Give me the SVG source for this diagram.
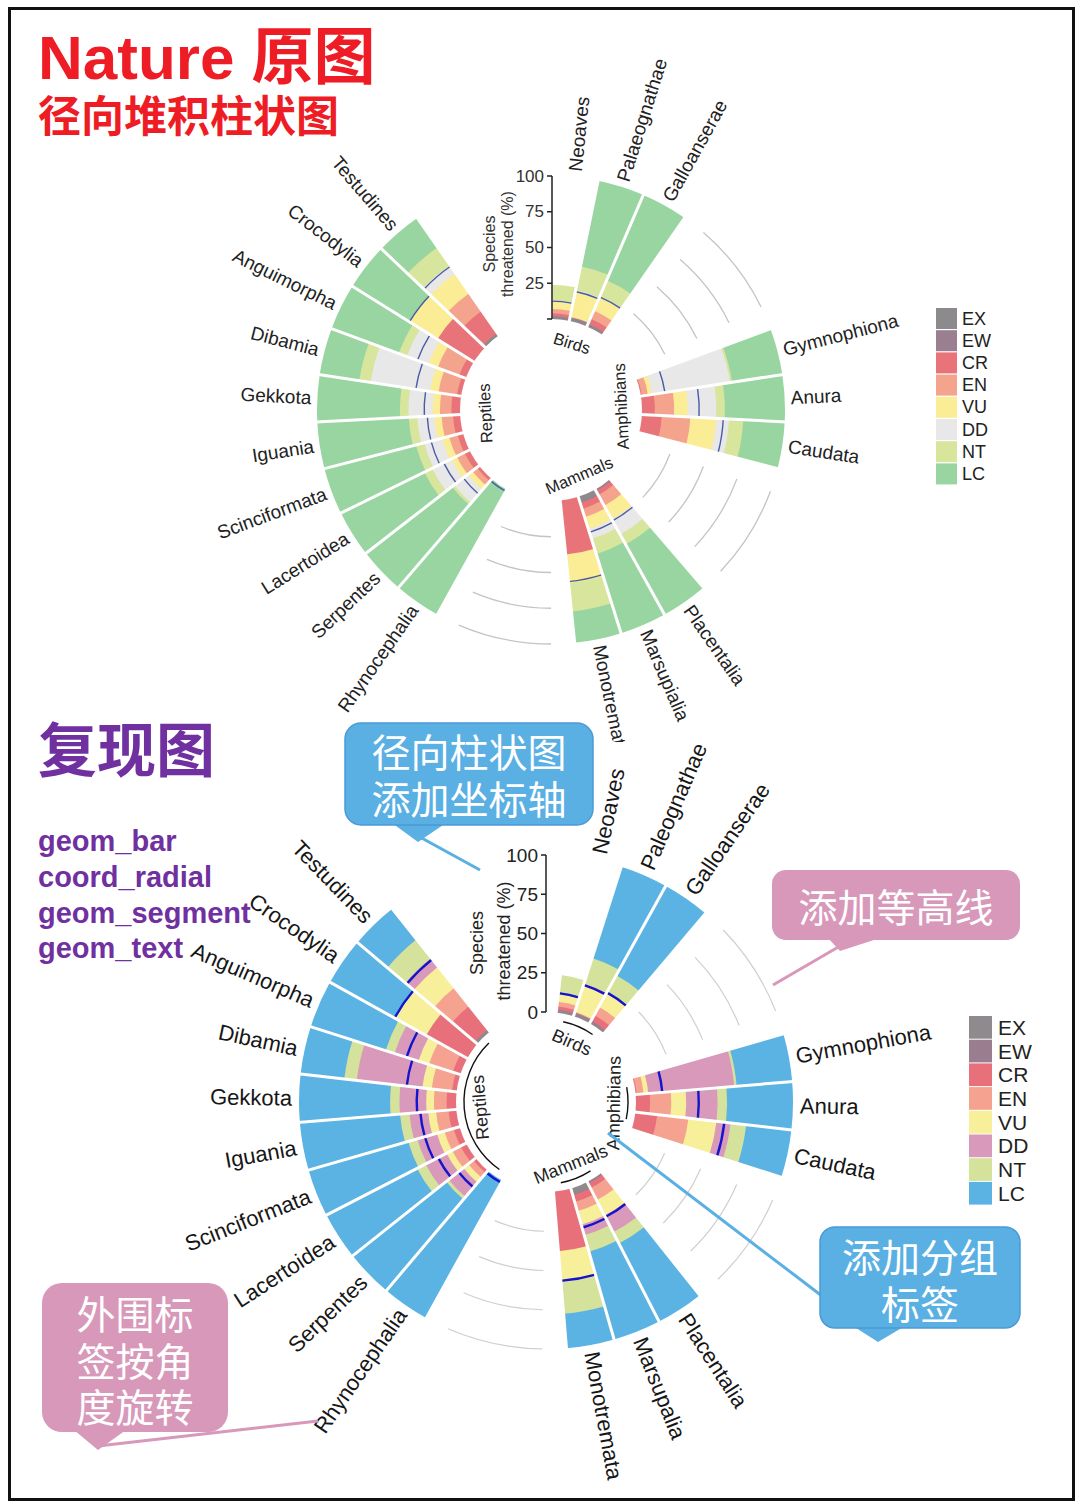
<svg xmlns="http://www.w3.org/2000/svg" width="1080" height="1505" viewBox="0 0 1080 1505">
<defs>
<style>
text{font-family:"Liberation Sans","Noto Sans CJK SC",sans-serif}
#top .ex{fill:#8d8a8d}#top .ew{fill:#9a7f91}#top .cr{fill:#e8747a}#top .en{fill:#f4a48d}#top .vu{fill:#fbec96}#top .dd{fill:#e8e8e8}#top .nt{fill:#d7e59d}#top .lc{fill:#98d5a1}
#bot .ex{fill:#8e8a8e}#bot .ew{fill:#9a7e8f}#bot .cr{fill:#e8707b}#bot .en{fill:#f6a290}#bot .vu{fill:#f8ef9a}#bot .dd{fill:#d899bb}#bot .nt{fill:#d5e29b}#bot .lc{fill:#5bb3e3}
#top .ln{stroke:#4a5ba6;stroke-width:1.4}
#bot .ln{stroke:#1414cc;stroke-width:2.4}
.sep{stroke:#fff;stroke-width:3}
#top .ct{stroke:#c4c4c4;stroke-width:1.3}
#bot .ct{stroke:#cfcfcf;stroke-width:1.2}
.lb{fill:#222;dominant-baseline:central}
#top .lb{font-size:19px}
#bot .lb{font-size:22px;fill:#161616}
.e{text-anchor:end}
.gl{text-anchor:middle;fill:#222;dominant-baseline:central}
#top .gl{font-size:16.5px}
#bot .gl{font-size:18px}
.ax{stroke:#222;stroke-width:1.5;fill:none}
.tk{text-anchor:end;dominant-baseline:central;fill:#333}
#top .tk{font-size:17px}
#bot .tk{font-size:19px;fill:#222}
.at{text-anchor:middle;fill:#333}
#top .at{font-size:16px}
#bot .at{font-size:18px;fill:#222}
.lg{fill:#222;dominant-baseline:central}
#top .lg{font-size:18px}
#bot .lg{font-size:21px}
.co{font-family:"Noto Sans CJK SC",sans-serif;font-size:39px;fill:#fff;text-anchor:middle}
.code{font-size:29px;font-weight:bold;fill:#7030a0}
.garc{stroke:#111;stroke-width:1.4;fill:none}
</style>
<path id="wt" d="M0,0 L0,-1 A1,1 0 0 1 0.2013,-0.97953 Z"/>
<path id="at" d="M0,-1 A1,1 0 0 1 0.2013,-0.97953" fill="none" vector-effect="non-scaling-stroke"/>
<path id="ct" d="M0,-1 A1,1 0 0 1 0.39436,-0.91896" fill="none" vector-effect="non-scaling-stroke"/>
<path id="wb" d="M0,0 L0,-1 A1,1 0 0 1 0.19509,-0.98079 Z"/>
<path id="ab" d="M0,-1 A1,1 0 0 1 0.19509,-0.98079" fill="none" vector-effect="non-scaling-stroke"/>
<path id="cb" d="M0,-1 A1,1 0 0 1 0.38268,-0.92388" fill="none" vector-effect="non-scaling-stroke"/>
<clipPath id="clipTop"><rect x="0" y="0" width="1080" height="742"/></clipPath>
</defs>
<rect width="1080" height="1505" fill="#fff"/>

<g id="titles">
<text x="38" y="79" font-size="62" font-weight="bold" fill="#ee1c24">Nature 原图</text>
<text x="38" y="132" font-size="43" font-weight="bold" fill="#ee1c24" font-family="Noto Sans CJK SC, sans-serif">径向堆积柱状图</text>
<text x="38" y="772" font-size="59" font-weight="bold" fill="#7030a0" font-family="Noto Sans CJK SC, sans-serif">复现图</text>
<text class="code" x="38" y="851">geom_bar</text>
<text class="code" x="38" y="887">coord_radial</text>
<text class="code" x="38" y="923">geom_segment</text>
<text class="code" x="38" y="958">geom_text</text>
</g>

<g id="top" clip-path="url(#clipTop)">
<g transform="translate(551,410)">
<g id="t-neoaves" transform="rotate(0)"><use href="#wt" transform="scale(125.3)" class="nt"/><use href="#wt" transform="scale(109.6)" class="dd"/><use href="#wt" transform="scale(108.2)" class="vu"/><use href="#wt" transform="scale(101)" class="en"/><use href="#wt" transform="scale(96.7)" class="cr"/><use href="#wt" transform="scale(93.9)" class="ew"/><use href="#wt" transform="scale(93.1)" class="ex"/><use href="#at" transform="scale(108.9)" class="ln"/></g>
<g id="t-palaeognathae" transform="rotate(11.613)"><use href="#wt" transform="scale(234)" class="lc"/><use href="#wt" transform="scale(146.8)" class="nt"/><use href="#wt" transform="scale(122.5)" class="dd"/><use href="#wt" transform="scale(121)" class="vu"/><use href="#wt" transform="scale(95.3)" class="en"/><use href="#wt" transform="scale(94.6)" class="ew"/><use href="#wt" transform="scale(93.1)" class="ex"/><use href="#at" transform="scale(121)" class="ln"/></g>
<g id="t-galloanserae" transform="rotate(23.226)"><use href="#wt" transform="scale(234)" class="lc"/><use href="#wt" transform="scale(141.1)" class="nt"/><use href="#wt" transform="scale(123.9)" class="dd"/><use href="#wt" transform="scale(122.5)" class="vu"/><use href="#wt" transform="scale(108.2)" class="en"/><use href="#wt" transform="scale(99.6)" class="cr"/><use href="#wt" transform="scale(93.9)" class="ew"/><use href="#wt" transform="scale(92.4)" class="ex"/><use href="#at" transform="scale(123.2)" class="ln"/></g>
<g id="t-gymnophiona" transform="rotate(69.677)"><use href="#wt" transform="scale(234)" class="lc"/><use href="#wt" transform="scale(183.2)" class="nt"/><use href="#wt" transform="scale(181.1)" class="dd"/><use href="#wt" transform="scale(102.4)" class="vu"/><use href="#wt" transform="scale(98.2)" class="en"/><use href="#wt" transform="scale(92)" class="cr"/><use href="#at" transform="scale(115.3)" class="ln"/></g>
<g id="t-anura" transform="rotate(81.29)"><use href="#wt" transform="scale(234)" class="lc"/><use href="#wt" transform="scale(174)" class="nt"/><use href="#wt" transform="scale(165.4)" class="dd"/><use href="#wt" transform="scale(136.8)" class="vu"/><use href="#wt" transform="scale(123.2)" class="en"/><use href="#wt" transform="scale(103.9)" class="cr"/><use href="#at" transform="scale(148.2)" class="ln"/></g>
<g id="t-caudata" transform="rotate(92.903)"><use href="#wt" transform="scale(234)" class="lc"/><use href="#wt" transform="scale(192.5)" class="nt"/><use href="#wt" transform="scale(178.2)" class="dd"/><use href="#wt" transform="scale(165.4)" class="vu"/><use href="#wt" transform="scale(139.6)" class="en"/><use href="#wt" transform="scale(111)" class="cr"/><use href="#at" transform="scale(172.5)" class="ln"/></g>
<g id="t-placentalia" transform="rotate(139.355)"><use href="#wt" transform="scale(234)" class="lc"/><use href="#wt" transform="scale(153.9)" class="nt"/><use href="#wt" transform="scale(142.5)" class="dd"/><use href="#wt" transform="scale(125.3)" class="vu"/><use href="#wt" transform="scale(109.6)" class="en"/><use href="#wt" transform="scale(97.4)" class="cr"/><use href="#wt" transform="scale(93)" class="ew"/><use href="#wt" transform="scale(92)" class="ex"/><use href="#at" transform="scale(126.8)" class="ln"/></g>
<g id="t-marsupialia" transform="rotate(150.968)"><use href="#wt" transform="scale(234)" class="lc"/><use href="#wt" transform="scale(151.1)" class="nt"/><use href="#wt" transform="scale(135.3)" class="dd"/><use href="#wt" transform="scale(125.3)" class="vu"/><use href="#wt" transform="scale(112.5)" class="en"/><use href="#wt" transform="scale(103.9)" class="cr"/><use href="#wt" transform="scale(97.4)" class="ew"/><use href="#wt" transform="scale(96.7)" class="ex"/><use href="#at" transform="scale(128.2)" class="ln"/></g>
<g id="t-monotremata" transform="rotate(162.581)"><use href="#wt" transform="scale(234)" class="lc"/><use href="#wt" transform="scale(202.5)" class="nt"/><use href="#wt" transform="scale(174)" class="vu"/><use href="#wt" transform="scale(145.3)" class="cr"/><use href="#at" transform="scale(172.5)" class="ln"/></g>
<g id="t-rhynocephalia" transform="rotate(209.032)"><use href="#wt" transform="scale(234)" class="lc"/><use href="#at" transform="scale(93.1)" class="ln"/></g>
<g id="t-serpentes" transform="rotate(220.645)"><use href="#wt" transform="scale(234)" class="lc"/><use href="#wt" transform="scale(125.3)" class="nt"/><use href="#wt" transform="scale(122.5)" class="dd"/><use href="#wt" transform="scale(105.3)" class="vu"/><use href="#wt" transform="scale(99.6)" class="en"/><use href="#wt" transform="scale(93.9)" class="cr"/><use href="#at" transform="scale(111)" class="ln"/></g>
<g id="t-lacertoidea" transform="rotate(232.258)"><use href="#wt" transform="scale(234)" class="lc"/><use href="#wt" transform="scale(141.1)" class="nt"/><use href="#wt" transform="scale(132.5)" class="dd"/><use href="#wt" transform="scale(111)" class="vu"/><use href="#wt" transform="scale(105.3)" class="en"/><use href="#wt" transform="scale(96.7)" class="cr"/><use href="#at" transform="scale(119.6)" class="ln"/></g>
<g id="t-scinciformata" transform="rotate(243.871)"><use href="#wt" transform="scale(234)" class="lc"/><use href="#wt" transform="scale(139.6)" class="nt"/><use href="#wt" transform="scale(131)" class="dd"/><use href="#wt" transform="scale(112.5)" class="vu"/><use href="#wt" transform="scale(105.3)" class="en"/><use href="#wt" transform="scale(96.7)" class="cr"/><use href="#at" transform="scale(123.9)" class="ln"/></g>
<g id="t-iguania" transform="rotate(255.484)"><use href="#wt" transform="scale(234)" class="lc"/><use href="#wt" transform="scale(142.5)" class="nt"/><use href="#wt" transform="scale(133.9)" class="dd"/><use href="#wt" transform="scale(116.7)" class="vu"/><use href="#wt" transform="scale(109.6)" class="en"/><use href="#wt" transform="scale(98.2)" class="cr"/><use href="#at" transform="scale(123.9)" class="ln"/></g>
<g id="t-gekkota" transform="rotate(267.097)"><use href="#wt" transform="scale(234)" class="lc"/><use href="#wt" transform="scale(151.1)" class="nt"/><use href="#wt" transform="scale(142.5)" class="dd"/><use href="#wt" transform="scale(118.2)" class="vu"/><use href="#wt" transform="scale(111)" class="en"/><use href="#wt" transform="scale(99.6)" class="cr"/><use href="#at" transform="scale(126.8)" class="ln"/></g>
<g id="t-dibamia" transform="rotate(278.71)"><use href="#wt" transform="scale(234)" class="lc"/><use href="#wt" transform="scale(194)" class="nt"/><use href="#wt" transform="scale(182.5)" class="dd"/><use href="#wt" transform="scale(122.5)" class="vu"/><use href="#wt" transform="scale(113.9)" class="en"/><use href="#wt" transform="scale(95.3)" class="cr"/><use href="#at" transform="scale(136.8)" class="ln"/></g>
<g id="t-anguimorpha" transform="rotate(290.323)"><use href="#wt" transform="scale(234)" class="lc"/><use href="#wt" transform="scale(162.5)" class="nt"/><use href="#wt" transform="scale(153.9)" class="dd"/><use href="#wt" transform="scale(131)" class="vu"/><use href="#wt" transform="scale(121)" class="en"/><use href="#wt" transform="scale(98.2)" class="cr"/><use href="#at" transform="scale(142.5)" class="ln"/></g>
<g id="t-crocodylia" transform="rotate(301.935)"><use href="#wt" transform="scale(234)" class="lc"/><use href="#wt" transform="scale(166.8)" class="vu"/><use href="#wt" transform="scale(133.9)" class="cr"/><use href="#at" transform="scale(166.8)" class="ln"/></g>
<g id="t-testudines" transform="rotate(313.548)"><use href="#wt" transform="scale(234)" class="lc"/><use href="#wt" transform="scale(198.3)" class="nt"/><use href="#wt" transform="scale(176.8)" class="dd"/><use href="#wt" transform="scale(166.8)" class="vu"/><use href="#wt" transform="scale(142.5)" class="en"/><use href="#wt" transform="scale(121)" class="cr"/><use href="#wt" transform="scale(93.9)" class="ex"/><use href="#at" transform="scale(175.4)" class="ln"/></g>
<g id="t-separators" class="sep">
<line y1="-80" y2="-245" transform="rotate(0)"/><line y1="-80" y2="-245" transform="rotate(11.613)"/><line y1="-80" y2="-245" transform="rotate(23.226)"/><line y1="-80" y2="-245" transform="rotate(34.839)"/>
<line y1="-80" y2="-245" transform="rotate(69.677)"/><line y1="-80" y2="-245" transform="rotate(81.29)"/><line y1="-80" y2="-245" transform="rotate(92.903)"/><line y1="-80" y2="-245" transform="rotate(104.516)"/>
<line y1="-80" y2="-245" transform="rotate(139.355)"/><line y1="-80" y2="-245" transform="rotate(150.968)"/><line y1="-80" y2="-245" transform="rotate(162.581)"/><line y1="-80" y2="-245" transform="rotate(174.194)"/>
<line y1="-80" y2="-245" transform="rotate(209.032)"/><line y1="-80" y2="-245" transform="rotate(220.645)"/><line y1="-80" y2="-245" transform="rotate(232.258)"/><line y1="-80" y2="-245" transform="rotate(243.871)"/><line y1="-80" y2="-245" transform="rotate(255.484)"/><line y1="-80" y2="-245" transform="rotate(267.097)"/><line y1="-80" y2="-245" transform="rotate(278.71)"/><line y1="-80" y2="-245" transform="rotate(290.323)"/><line y1="-80" y2="-245" transform="rotate(301.935)"/><line y1="-80" y2="-245" transform="rotate(313.548)"/><line y1="-80" y2="-245" transform="rotate(325.161)"/>
</g>
<circle r="91" fill="#fff"/>
<g id="t-contours" class="ct">
<use href="#ct" transform="rotate(40.645) scale(126.75)"/><use href="#ct" transform="rotate(40.645) scale(162.5)"/><use href="#ct" transform="rotate(40.645) scale(198.25)"/><use href="#ct" transform="rotate(40.645) scale(234)"/>
<use href="#ct" transform="rotate(110.323) scale(126.75)"/><use href="#ct" transform="rotate(110.323) scale(162.5)"/><use href="#ct" transform="rotate(110.323) scale(198.25)"/><use href="#ct" transform="rotate(110.323) scale(234)"/>
<use href="#ct" transform="rotate(180) scale(126.75)"/><use href="#ct" transform="rotate(180) scale(162.5)"/><use href="#ct" transform="rotate(180) scale(198.25)"/><use href="#ct" transform="rotate(180) scale(234)"/>
</g>
<g id="t-group-labels">
<text class="gl" transform="rotate(17.42) translate(0,-70)">Birds</text>
<text class="gl" transform="rotate(87.1) translate(0,-70) rotate(180)">Amphibians</text>
<text class="gl" transform="rotate(156.77) translate(0,-71) rotate(180)">Mammals</text>
<text class="gl" transform="rotate(267.1) translate(0,-66)">Reptiles</text>
</g>
<g id="t-bar-labels">
<text class="lb" transform="rotate(-84.19) translate(240,0)">Neoaves</text>
<text class="lb" transform="rotate(-72.58) translate(240,0)">Palaeognathae</text>
<text class="lb" transform="rotate(-60.97) translate(240,0)">Galloanserae</text>
<text class="lb" transform="rotate(-14.52) translate(240,0)">Gymnophiona</text>
<text class="lb" transform="rotate(-2.9) translate(240,0)">Anura</text>
<text class="lb" transform="rotate(8.71) translate(240,0)">Caudata</text>
<text class="lb" transform="rotate(55.16) translate(240,0)">Placentalia</text>
<text class="lb" transform="rotate(66.77) translate(240,0)">Marsupialia</text>
<text class="lb" transform="rotate(78.39) translate(240,0)">Monotremata</text>
<text class="lb e" transform="rotate(-55.16) translate(-240,0)">Rhynocephalia</text>
<text class="lb e" transform="rotate(-43.55) translate(-240,0)">Serpentes</text>
<text class="lb e" transform="rotate(-31.94) translate(-240,0)">Lacertoidea</text>
<text class="lb e" transform="rotate(-20.32) translate(-240,0)">Scinciformata</text>
<text class="lb e" transform="rotate(-8.71) translate(-240,0)">Iguania</text>
<text class="lb e" transform="rotate(2.9) translate(-240,0)">Gekkota</text>
<text class="lb e" transform="rotate(14.52) translate(-240,0)">Dibamia</text>
<text class="lb e" transform="rotate(26.13) translate(-240,0)">Anguimorpha</text>
<text class="lb e" transform="rotate(37.74) translate(-240,0)">Crocodylia</text>
<text class="lb e" transform="rotate(49.35) translate(-240,0)">Testudines</text>
</g>
</g>
<g id="t-axis">
<path class="ax" d="M552,176 V319 M547,176 H552 M547,211.75 H552 M547,247.5 H552 M547,283.25 H552 M547,319 H552"/>
<text class="tk" x="544" y="176">100</text>
<text class="tk" x="544" y="211.75">75</text>
<text class="tk" x="544" y="247.5">50</text>
<text class="tk" x="544" y="283.25">25</text>
<text class="at" transform="translate(495,244) rotate(-90)">Species</text>
<text class="at" transform="translate(513,244) rotate(-90)">threatened (%)</text>
</g>
<g id="t-legend">
<rect x="936" y="308" width="21" height="21" class="ex"/><rect x="936" y="330.2" width="21" height="21" class="ew"/><rect x="936" y="352.4" width="21" height="21" class="cr"/><rect x="936" y="374.6" width="21" height="21" class="en"/><rect x="936" y="396.8" width="21" height="21" class="vu"/><rect x="936" y="419" width="21" height="21" class="dd"/><rect x="936" y="441.2" width="21" height="21" class="nt"/><rect x="936" y="463.4" width="21" height="21" class="lc"/>
<text class="lg" x="962" y="318.5">EX</text><text class="lg" x="962" y="340.7">EW</text><text class="lg" x="962" y="362.9">CR</text><text class="lg" x="962" y="385.1">EN</text><text class="lg" x="962" y="407.3">VU</text><text class="lg" x="962" y="429.5">DD</text><text class="lg" x="962" y="451.7">NT</text><text class="lg" x="962" y="473.9">LC</text>
</g>
</g>

<g id="bot">
<g transform="translate(546,1102)">
<g id="b-neoaves" transform="rotate(6.5)"><use href="#wb" transform="scale(127.7)" class="nt"/><use href="#wb" transform="scale(110.4)" class="dd"/><use href="#wb" transform="scale(108.8)" class="vu"/><use href="#wb" transform="scale(101)" class="en"/><use href="#wb" transform="scale(96.3)" class="cr"/><use href="#wb" transform="scale(93.1)" class="ew"/><use href="#wb" transform="scale(92.4)" class="ex"/><use href="#ab" transform="scale(109.6)" class="ln"/></g>
<g id="b-paleognathae" transform="rotate(17.75)"><use href="#wb" transform="scale(247)" class="lc"/><use href="#wb" transform="scale(151.2)" class="nt"/><use href="#wb" transform="scale(124.5)" class="dd"/><use href="#wb" transform="scale(123)" class="vu"/><use href="#wb" transform="scale(94.7)" class="en"/><use href="#wb" transform="scale(93.9)" class="ew"/><use href="#wb" transform="scale(92.4)" class="ex"/><use href="#ab" transform="scale(123)" class="ln"/></g>
<g id="b-galloanserae" transform="rotate(29)"><use href="#wb" transform="scale(247)" class="lc"/><use href="#wb" transform="scale(145)" class="nt"/><use href="#wb" transform="scale(126.1)" class="dd"/><use href="#wb" transform="scale(124.5)" class="vu"/><use href="#wb" transform="scale(108.8)" class="en"/><use href="#wb" transform="scale(99.4)" class="cr"/><use href="#wb" transform="scale(93.1)" class="ew"/><use href="#wb" transform="scale(91.6)" class="ex"/><use href="#ab" transform="scale(125.3)" class="ln"/></g>
<g id="b-gymnophiona" transform="rotate(74)"><use href="#wb" transform="scale(247)" class="lc"/><use href="#wb" transform="scale(191.3)" class="nt"/><use href="#wb" transform="scale(188.9)" class="dd"/><use href="#wb" transform="scale(102.6)" class="vu"/><use href="#wb" transform="scale(97.9)" class="en"/><use href="#wb" transform="scale(91)" class="cr"/><use href="#ab" transform="scale(116.7)" class="ln"/></g>
<g id="b-anura" transform="rotate(85.25)"><use href="#wb" transform="scale(247)" class="lc"/><use href="#wb" transform="scale(181.1)" class="nt"/><use href="#wb" transform="scale(171.6)" class="dd"/><use href="#wb" transform="scale(140.2)" class="vu"/><use href="#wb" transform="scale(125.3)" class="en"/><use href="#wb" transform="scale(104.1)" class="cr"/><use href="#ab" transform="scale(152.8)" class="ln"/></g>
<g id="b-caudata" transform="rotate(96.5)"><use href="#wb" transform="scale(247)" class="lc"/><use href="#wb" transform="scale(201.5)" class="nt"/><use href="#wb" transform="scale(185.8)" class="dd"/><use href="#wb" transform="scale(171.6)" class="vu"/><use href="#wb" transform="scale(143.4)" class="en"/><use href="#wb" transform="scale(112)" class="cr"/><use href="#ab" transform="scale(179.5)" class="ln"/></g>
<g id="b-placentalia" transform="rotate(141.5)"><use href="#wb" transform="scale(247)" class="lc"/><use href="#wb" transform="scale(159.1)" class="nt"/><use href="#wb" transform="scale(146.5)" class="dd"/><use href="#wb" transform="scale(127.7)" class="vu"/><use href="#wb" transform="scale(110.4)" class="en"/><use href="#wb" transform="scale(97.1)" class="cr"/><use href="#wb" transform="scale(92)" class="ew"/><use href="#wb" transform="scale(91)" class="ex"/><use href="#ab" transform="scale(129.3)" class="ln"/></g>
<g id="b-marsupalia" transform="rotate(152.75)"><use href="#wb" transform="scale(247)" class="lc"/><use href="#wb" transform="scale(155.9)" class="nt"/><use href="#wb" transform="scale(138.7)" class="dd"/><use href="#wb" transform="scale(127.7)" class="vu"/><use href="#wb" transform="scale(113.6)" class="en"/><use href="#wb" transform="scale(104.1)" class="cr"/><use href="#wb" transform="scale(97.1)" class="ew"/><use href="#wb" transform="scale(96.3)" class="ex"/><use href="#ab" transform="scale(130.8)" class="ln"/></g>
<g id="b-monotremata" transform="rotate(164)"><use href="#wb" transform="scale(247)" class="lc"/><use href="#wb" transform="scale(212.5)" class="nt"/><use href="#wb" transform="scale(181.1)" class="vu"/><use href="#wb" transform="scale(149.7)" class="cr"/><use href="#ab" transform="scale(179.5)" class="ln"/></g>
<g id="b-rhynocephalia" transform="rotate(209)"><use href="#wb" transform="scale(247)" class="lc"/><use href="#ab" transform="scale(92.4)" class="ln"/></g>
<g id="b-serpentes" transform="rotate(220.25)"><use href="#wb" transform="scale(247)" class="lc"/><use href="#wb" transform="scale(127.7)" class="nt"/><use href="#wb" transform="scale(124.5)" class="dd"/><use href="#wb" transform="scale(105.7)" class="vu"/><use href="#wb" transform="scale(99.4)" class="en"/><use href="#wb" transform="scale(93.1)" class="cr"/><use href="#ab" transform="scale(112)" class="ln"/></g>
<g id="b-lacertoidea" transform="rotate(231.5)"><use href="#wb" transform="scale(247)" class="lc"/><use href="#wb" transform="scale(145)" class="nt"/><use href="#wb" transform="scale(135.5)" class="dd"/><use href="#wb" transform="scale(112)" class="vu"/><use href="#wb" transform="scale(105.7)" class="en"/><use href="#wb" transform="scale(96.3)" class="cr"/><use href="#ab" transform="scale(121.4)" class="ln"/></g>
<g id="b-scinciformata" transform="rotate(242.75)"><use href="#wb" transform="scale(247)" class="lc"/><use href="#wb" transform="scale(143.4)" class="nt"/><use href="#wb" transform="scale(134)" class="dd"/><use href="#wb" transform="scale(113.6)" class="vu"/><use href="#wb" transform="scale(105.7)" class="en"/><use href="#wb" transform="scale(96.3)" class="cr"/><use href="#ab" transform="scale(126.1)" class="ln"/></g>
<g id="b-iguania" transform="rotate(254)"><use href="#wb" transform="scale(247)" class="lc"/><use href="#wb" transform="scale(146.5)" class="nt"/><use href="#wb" transform="scale(137.1)" class="dd"/><use href="#wb" transform="scale(118.3)" class="vu"/><use href="#wb" transform="scale(110.4)" class="en"/><use href="#wb" transform="scale(97.9)" class="cr"/><use href="#ab" transform="scale(126.1)" class="ln"/></g>
<g id="b-gekkota" transform="rotate(265.25)"><use href="#wb" transform="scale(247)" class="lc"/><use href="#wb" transform="scale(155.9)" class="nt"/><use href="#wb" transform="scale(146.5)" class="dd"/><use href="#wb" transform="scale(119.8)" class="vu"/><use href="#wb" transform="scale(112)" class="en"/><use href="#wb" transform="scale(99.4)" class="cr"/><use href="#ab" transform="scale(129.3)" class="ln"/></g>
<g id="b-dibamia" transform="rotate(276.5)"><use href="#wb" transform="scale(247)" class="lc"/><use href="#wb" transform="scale(203)" class="nt"/><use href="#wb" transform="scale(190.5)" class="dd"/><use href="#wb" transform="scale(124.5)" class="vu"/><use href="#wb" transform="scale(115.1)" class="en"/><use href="#wb" transform="scale(94.7)" class="cr"/><use href="#ab" transform="scale(140.2)" class="ln"/></g>
<g id="b-anguimorpha" transform="rotate(287.75)"><use href="#wb" transform="scale(247)" class="lc"/><use href="#wb" transform="scale(168.5)" class="nt"/><use href="#wb" transform="scale(159.1)" class="dd"/><use href="#wb" transform="scale(134)" class="vu"/><use href="#wb" transform="scale(123)" class="en"/><use href="#wb" transform="scale(97.9)" class="cr"/><use href="#ab" transform="scale(146.5)" class="ln"/></g>
<g id="b-crocodylia" transform="rotate(299)"><use href="#wb" transform="scale(247)" class="lc"/><use href="#wb" transform="scale(173.2)" class="vu"/><use href="#wb" transform="scale(137.1)" class="cr"/><use href="#ab" transform="scale(173.2)" class="ln"/></g>
<g id="b-testudines" transform="rotate(310.25)"><use href="#wb" transform="scale(247)" class="lc"/><use href="#wb" transform="scale(207.8)" class="nt"/><use href="#wb" transform="scale(184.2)" class="dd"/><use href="#wb" transform="scale(173.2)" class="vu"/><use href="#wb" transform="scale(146.5)" class="en"/><use href="#wb" transform="scale(123)" class="cr"/><use href="#wb" transform="scale(93.1)" class="ex"/><use href="#ab" transform="scale(182.6)" class="ln"/></g>
<g id="b-separators" class="sep">
<line y1="-80" y2="-258" transform="rotate(6.5)"/><line y1="-80" y2="-258" transform="rotate(17.75)"/><line y1="-80" y2="-258" transform="rotate(29)"/><line y1="-80" y2="-258" transform="rotate(40.25)"/>
<line y1="-80" y2="-258" transform="rotate(74)"/><line y1="-80" y2="-258" transform="rotate(85.25)"/><line y1="-80" y2="-258" transform="rotate(96.5)"/><line y1="-80" y2="-258" transform="rotate(107.75)"/>
<line y1="-80" y2="-258" transform="rotate(141.5)"/><line y1="-80" y2="-258" transform="rotate(152.75)"/><line y1="-80" y2="-258" transform="rotate(164)"/><line y1="-80" y2="-258" transform="rotate(175.25)"/>
<line y1="-80" y2="-258" transform="rotate(209)"/><line y1="-80" y2="-258" transform="rotate(220.25)"/><line y1="-80" y2="-258" transform="rotate(231.5)"/><line y1="-80" y2="-258" transform="rotate(242.75)"/><line y1="-80" y2="-258" transform="rotate(254)"/><line y1="-80" y2="-258" transform="rotate(265.25)"/><line y1="-80" y2="-258" transform="rotate(276.5)"/><line y1="-80" y2="-258" transform="rotate(287.75)"/><line y1="-80" y2="-258" transform="rotate(299)"/><line y1="-80" y2="-258" transform="rotate(310.25)"/><line y1="-80" y2="-258" transform="rotate(321.5)"/>
</g>
<circle r="90" fill="#fff"/>
<g id="b-contours" class="ct">
<use href="#cb" transform="rotate(45.875) scale(129.25)"/><use href="#cb" transform="rotate(45.875) scale(168.5)"/><use href="#cb" transform="rotate(45.875) scale(207.75)"/><use href="#cb" transform="rotate(45.875) scale(247)"/>
<use href="#cb" transform="rotate(113.375) scale(129.25)"/><use href="#cb" transform="rotate(113.375) scale(168.5)"/><use href="#cb" transform="rotate(113.375) scale(207.75)"/><use href="#cb" transform="rotate(113.375) scale(247)"/>
<use href="#cb" transform="rotate(180.875) scale(129.25)"/><use href="#cb" transform="rotate(180.875) scale(168.5)"/><use href="#cb" transform="rotate(180.875) scale(207.75)"/><use href="#cb" transform="rotate(180.875) scale(247)"/>
</g>
<g id="b-group-labels">
<text class="gl" transform="rotate(23.375) translate(0,-65)">Birds</text>
<text class="gl" transform="rotate(90.875) translate(0,-68) rotate(180)">Amphibians</text>
<text class="gl" transform="rotate(158.375) translate(0,-67) rotate(180)">Mammals</text>
<text class="gl" transform="rotate(265.25) translate(0,-66)">Reptiles</text>
</g>
<g id="b-bar-labels">
<text class="lb" transform="rotate(-77.875) translate(254,0)">Neoaves</text>
<text class="lb" transform="rotate(-66.625) translate(254,0)">Paleognathae</text>
<text class="lb" transform="rotate(-55.375) translate(254,0)">Galloanserae</text>
<text class="lb" transform="rotate(-10.375) translate(254,0)">Gymnophiona</text>
<text class="lb" transform="rotate(0.875) translate(254,0)">Anura</text>
<text class="lb" transform="rotate(12.125) translate(254,0)">Caudata</text>
<text class="lb" transform="rotate(57.125) translate(254,0)">Placentalia</text>
<text class="lb" transform="rotate(68.375) translate(254,0)">Marsupalia</text>
<text class="lb" transform="rotate(79.625) translate(254,0)">Monotremata</text>
<text class="lb e" transform="rotate(-55.375) translate(-254,0)">Rhynocephalia</text>
<text class="lb e" transform="rotate(-44.125) translate(-254,0)">Serpentes</text>
<text class="lb e" transform="rotate(-32.875) translate(-254,0)">Lacertoidea</text>
<text class="lb e" transform="rotate(-21.625) translate(-254,0)">Scinciformata</text>
<text class="lb e" transform="rotate(-10.375) translate(-254,0)">Iguania</text>
<text class="lb e" transform="rotate(0.875) translate(-254,0)">Gekkota</text>
<text class="lb e" transform="rotate(12.125) translate(-254,0)">Dibamia</text>
<text class="lb e" transform="rotate(23.375) translate(-254,0)">Anguimorpha</text>
<text class="lb e" transform="rotate(34.625) translate(-254,0)">Crocodylia</text>
<text class="lb e" transform="rotate(45.875) translate(-254,0)">Testudines</text>
</g>
</g>
<g id="b-group-arcs">
<path class="garc" d="M563.2,1021.8 A82,82 0 0 1 592.6,1034.5"/>
<path class="garc" d="M626.7,1087.2 A82,82 0 0 1 626.2,1119.2"/>
<path class="garc" d="M590.5,1170.9 A82,82 0 0 1 560.8,1182.7"/>
<path class="garc" d="M499.4,1169.5 A82,82 0 0 1 488.9,1043.1"/>
</g>
<g id="b-axis">
<path class="ax" d="M546,855 V1012 M541,855 H546 M541,894.25 H546 M541,933.5 H546 M541,972.75 H546 M541,1012 H546"/>
<text class="tk" x="538" y="855">100</text>
<text class="tk" x="538" y="894.25">75</text>
<text class="tk" x="538" y="933.5">50</text>
<text class="tk" x="538" y="972.75">25</text>
<text class="tk" x="538" y="1012">0</text>
<text class="at" transform="translate(483,943) rotate(-90)">Species</text>
<text class="at" transform="translate(510,941) rotate(-90)">threatened (%)</text>
</g>
<g id="b-legend">
<rect x="969" y="1016" width="23" height="22.7" class="ex"/><rect x="969" y="1039.7" width="23" height="22.7" class="ew"/><rect x="969" y="1063.4" width="23" height="22.7" class="cr"/><rect x="969" y="1087.1" width="23" height="22.7" class="en"/><rect x="969" y="1110.8" width="23" height="22.7" class="vu"/><rect x="969" y="1134.5" width="23" height="22.7" class="dd"/><rect x="969" y="1158.2" width="23" height="22.7" class="nt"/><rect x="969" y="1181.9" width="23" height="22.7" class="lc"/>
<text class="lg" x="998" y="1027.4">EX</text><text class="lg" x="998" y="1051.1">EW</text><text class="lg" x="998" y="1074.8">CR</text><text class="lg" x="998" y="1098.5">EN</text><text class="lg" x="998" y="1122.2">VU</text><text class="lg" x="998" y="1145.9">DD</text><text class="lg" x="998" y="1169.6">NT</text><text class="lg" x="998" y="1193.3">LC</text>
</g>
</g>

<g id="connectors">
<line x1="418" y1="836" x2="480" y2="870" stroke="#5aafe3" stroke-width="3"/>
<line x1="840" y1="946" x2="773" y2="985" stroke="#d898b9" stroke-width="3"/>
<line x1="608" y1="1133" x2="822" y2="1296" stroke="#5aafe3" stroke-width="3"/>
<line x1="98" y1="1446" x2="318" y2="1421" stroke="#d898b9" stroke-width="3"/>
</g>

<g id="callout-axis">
<polygon points="392,823 446,823 418,842" fill="#5aafe3"/>
<rect x="345" y="723" width="248" height="102" rx="16" fill="#5aafe3" stroke="#4b9ad6" stroke-width="1.5"/>
<text class="co" x="469" y="767">径向柱状图<tspan x="469" dy="47">添加坐标轴</tspan></text>
</g>
<g id="callout-contour">
<polygon points="828,938 880,938 840,951" fill="#d898b9"/>
<rect x="772" y="870" width="248" height="70" rx="14" fill="#d898b9"/>
<text class="co" x="896" y="922">添加等高线</text>
</g>
<g id="callout-group">
<polygon points="853,1326 905,1326 878,1342" fill="#5aafe3"/>
<rect x="820" y="1227" width="200" height="101" rx="15" fill="#5aafe3" stroke="#4b9ad6" stroke-width="1.5"/>
<text class="co" x="920" y="1272">添加分组<tspan x="920" dy="47">标签</tspan></text>
</g>
<g id="callout-rotate">
<polygon points="74,1430 126,1430 98,1450" fill="#d898b9"/>
<rect x="42" y="1283" width="186" height="149" rx="20" fill="#d898b9"/>
<text class="co" x="135" y="1329">外围标<tspan x="135" dy="47">签按角</tspan><tspan x="135" dy="46">度旋转</tspan></text>
</g>

<rect id="frame" x="9.5" y="8.5" width="1064" height="1491" fill="none" stroke="#111" stroke-width="3"/>
</svg>
